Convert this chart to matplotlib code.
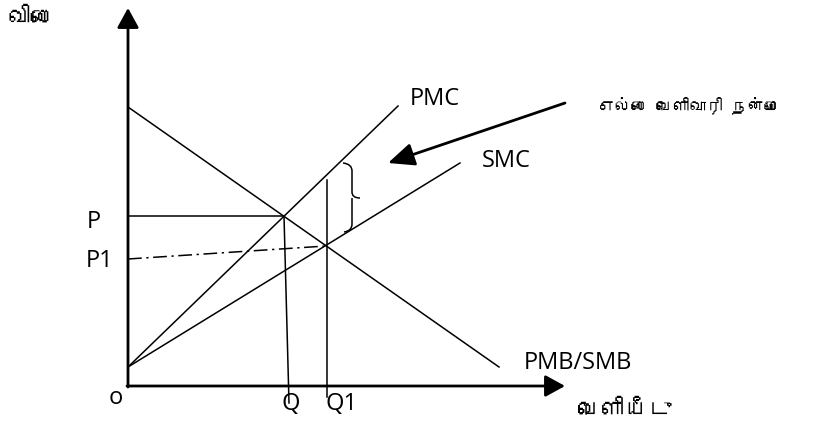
import matplotlib
matplotlib.use("Agg")
import matplotlib.pyplot as plt
from matplotlib import font_manager
from matplotlib.ft2font import FT2Font
from matplotlib.path import Path
from matplotlib.patches import PathPatch

# diagram points, origin at o, units are pixels of the original drawing
demand_x = [0, 371]
demand_y = [279, 19]
pmc_x = [0, 270]
pmc_y = [19, 280]
smc_x = [0, 332]
smc_y = [19, 223]

p_line_x = [0, 156]
p_line_y = [170, 170]
q_line_x = [156, 161]
q_line_y = [170, -17]
p1_line_x = [0, 198]
p1_line_y = [127, 140]
q1_line_x = [199, 199]
q1_line_y = [206, -11]

labels = ["PMC", "SMC", "PMB/SMB", "P", "P1", "o", "Q", "Q1"]
label_x = [307, 378, 450, -34, -28, -12, 163, 214]
label_y = [287, 225, 23, 164, 125, -12, -18, -18]

y_title = "விலை"
x_title = "வெளியீடு"
note = "எல்லை வெளிவாரி நன்மை"


def find_tamil_font():
    for f in font_manager.fontManager.ttflist:
        try:
            if 0x0BB5 in FT2Font(f.fname).get_charmap():
                return f.name
        except Exception:
            pass
    return "DejaVu Sans"


tamil = find_tamil_font()

fig = plt.figure(figsize=(8.29, 4.30), dpi=100)
ax = fig.add_axes([0, 0, 1, 1])
ax.set_xlim(-128, 701)
ax.set_ylim(-44, 386)
ax.axis("off")

# axes with arrow heads
axis_style = dict(arrowstyle="-|>,head_length=0.4,head_width=0.22",
                  lw=2.0, color="black", mutation_scale=30,
                  shrinkA=0, shrinkB=0)
ax.annotate("", xy=(0, 378), xytext=(0, -1), arrowprops=axis_style)
ax.annotate("", xy=(437, 0), xytext=(-1, 0), arrowprops=axis_style)

thin = dict(color="black", lw=1.1)
ax.plot(demand_x, demand_y, **thin)
ax.plot(pmc_x, pmc_y, **thin)
ax.plot(smc_x, smc_y, **thin)
ax.plot(p_line_x, p_line_y, **thin)
ax.plot(q_line_x, q_line_y, **thin)
ax.plot(q1_line_x, q1_line_y, **thin)
ax.plot(p1_line_x, p1_line_y, color="black", lw=1.1,
        linestyle=(0, (9, 3, 1.5, 3)))

# curly brace between PMC and SMC
bx, top, bot, mid = 215, 223, 154, 188
verts = [(bx, top), (bx + 9, top - 1), (bx + 9, top - 8),
         (bx + 9, mid + 6),
         (bx + 9, mid), (bx + 17, mid),
         (bx + 9, mid), (bx + 9, mid - 6),
         (bx + 9, bot + 8),
         (bx + 9, bot + 1), (bx + 1, bot)]
codes = [Path.MOVETO, Path.CURVE3, Path.CURVE3,
         Path.LINETO,
         Path.CURVE3, Path.CURVE3,
         Path.MOVETO, Path.CURVE3,
         Path.LINETO,
         Path.CURVE3, Path.CURVE3]
ax.add_patch(PathPatch(Path(verts, codes), fill=False, lw=1.1, color="black"))

# pointer arrow to the brace
ax.annotate("", xy=(260, 223), xytext=(437, 283),
            arrowprops=dict(arrowstyle="-|>,head_length=0.8,head_width=0.35",
                            lw=2.0, color="black", mutation_scale=20,
                            shrinkA=0, shrinkB=0))

for t, x, y in zip(labels, label_x, label_y):
    ax.text(x, y, t, fontsize=17, family="Open Sans", ha="center", va="center")

ax.text(-120, 368, y_title, fontsize=17, family=[tamil, "DejaVu Sans"],
        ha="left", va="center")
ax.text(450, -24, x_title, fontsize=17, family=[tamil, "DejaVu Sans"],
        ha="left", va="center")
ax.text(470, 281, note, fontsize=12, family=[tamil, "DejaVu Sans"],
        ha="left", va="center")

fig.savefig("out.png", dpi=100)
